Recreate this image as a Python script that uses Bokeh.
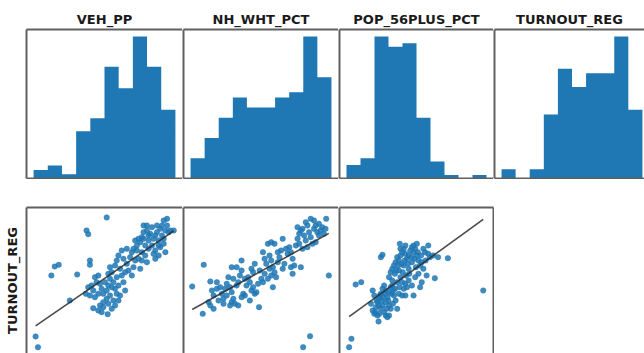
import numpy as np
from bokeh.plotting import figure
from bokeh.layouts import column, row
from bokeh.models import Range1d, LinearAxis, FixedTicker
from bokeh.embed import file_html
from bokeh.resources import INLINE

# ---------------- data ----------------
hist_names = ["VEH_PP", "NH_WHT_PCT", "POP_56PLUS_PCT", "TURNOUT_REG"]

# histogram counts (10 equal bins between the variable's min and max)
veh_pp_counts = [2, 3, 1, 11, 14, 26, 21, 33, 26, 16]
veh_pp_minmax = (0.322, 0.745)
nh_wht_counts = [4, 8, 12, 16, 14, 14, 16, 17, 28, 20]
nh_wht_minmax = (9.0, 94.6)
pop56_counts = [4, 6, 42, 39, 40, 18, 5, 1, 0, 1]
pop56_minmax = (12.0, 54.8)
turnout_counts = [2, 0, 2, 14, 24, 20, 23, 23, 31, 15]
turnout_minmax = (42.5, 81.4)

# scatter: VEH_PP vs TURNOUT_REG
veh_pp_x = [0.540, 0.480, 0.485, 0.328, 0.335, 0.375, 0.385, 0.397, 0.430, 0.452,
            0.490, 0.490, 0.543, 0.500,
            0.485, 0.478, 0.495, 0.505, 0.515, 0.510, 0.520, 0.525, 0.500, 0.490,
            0.505, 0.515, 0.530, 0.540, 0.545, 0.535, 0.550, 0.555, 0.560, 0.565,
            0.570, 0.575, 0.580, 0.590, 0.595, 0.585, 0.570, 0.550, 0.540, 0.530,
            0.520, 0.530, 0.545, 0.560, 0.575, 0.565, 0.555, 0.525, 0.515,
            0.550, 0.565, 0.575, 0.585, 0.590, 0.600, 0.600, 0.610, 0.605, 0.615,
            0.620, 0.625, 0.595, 0.580, 0.615, 0.570, 0.555, 0.545,
            0.630, 0.640, 0.650, 0.645, 0.655, 0.645, 0.660, 0.635, 0.665, 0.675,
            0.680, 0.670, 0.660, 0.675, 0.690, 0.700, 0.710, 0.720, 0.715, 0.725,
            0.705, 0.695, 0.685, 0.695, 0.685, 0.710, 0.715, 0.710, 0.730, 0.740,
            0.690, 0.650, 0.630, 0.640, 0.655, 0.665, 0.680, 0.695, 0.700, 0.720,
            0.705, 0.665, 0.645, 0.635, 0.620, 0.625, 0.650, 0.660, 0.685]
veh_pp_turnout = [81.4, 77.5, 76.4, 45.7, 42.5, 64.0, 66.7, 67.2, 56.5, 64.3,
                  68.5, 67.2, 52.4, 54.2,
                  60.5, 58.5, 61.0, 63.5, 64.0, 62.0, 61.5, 60.0, 59.5, 58.0,
                  57.5, 58.5, 58.5, 59.5, 61.0, 62.0, 63.0, 60.5, 62.0, 60.0,
                  58.5, 61.0, 58.0, 62.0, 59.5, 64.0, 63.5, 58.0, 57.0, 56.0,
                  55.0, 54.5, 55.5, 56.5, 56.5, 55.0, 54.0, 53.0, 53.5,
                  66.5, 67.0, 70.0, 71.5, 69.0, 72.0, 67.5, 69.5, 65.5, 64.0,
                  66.5, 68.5, 65.0, 66.0, 71.0, 68.5, 65.0, 64.5,
                  73.0, 74.0, 75.0, 71.0, 70.0, 68.5, 68.0, 69.0, 72.0, 73.0,
                  75.0, 76.5, 77.5, 78.5, 79.0, 78.0, 80.5, 81.0, 77.5, 77.0,
                  76.0, 74.5, 71.5, 70.0, 69.0, 73.5, 71.0, 75.0, 77.5, 77.5,
                  77.0, 77.0, 71.5, 66.0, 73.0, 74.5, 70.5, 73.0, 72.5, 79.0,
                  79.0, 76.0, 75.5, 75.0, 72.0, 74.5, 79.0, 79.0, 76.0]

# scatter: NH_WHT_PCT vs TURNOUT_REG
nh_wht_x = [10.0, 17.0, 16.4, 77.4, 81.6, 93.0, 91.4, 82.0,
            21.0, 22.0, 23.0, 20.0, 21.0, 23.0, 25.0, 27.0, 28.0, 29.0,
            26.0, 30.0, 31.0, 32.0, 33.0, 34.0, 35.0, 34.0, 36.0, 31.0,
            37.0, 38.0, 39.0, 40.0, 37.0, 40.0, 34.0, 35.0, 42.0, 43.0,
            41.0, 40.0, 45.0, 46.0, 47.0, 48.0, 45.0, 44.0, 47.0, 46.0,
            48.0, 51.0, 50.0, 52.0, 49.0, 42.0, 29.0, 25.0, 33.0, 50.6, 38.0,
            53.0, 56.0, 58.0, 60.0, 65.0, 54.0, 55.0, 57.0, 58.0, 59.0,
            60.0, 61.0, 59.0, 62.0, 63.0, 64.0, 65.0, 66.0, 67.0, 68.0,
            69.0, 70.0, 71.0, 70.0, 71.0, 72.0, 76.0, 62.0, 57.0, 54.0,
            53.0, 56.0, 58.0,
            73.0, 74.0, 75.0, 76.0, 77.0, 78.0, 79.0, 80.0, 81.0, 82.0,
            83.0, 84.0, 85.0, 86.0, 87.0, 88.0, 89.0, 90.0, 91.0, 77.0,
            80.0, 85.0, 74.0, 79.0, 84.0, 87.0, 75.0]
nh_wht_turnout = [60.7, 67.2, 52.5, 42.5, 45.8, 64.0, 81.0, 81.0,
                  62.2, 59.5, 58.0, 56.0, 55.0, 54.0, 60.0, 60.5, 58.5, 57.0,
                  56.5, 60.0, 61.5, 63.5, 60.5, 59.0, 57.0, 56.0, 55.5, 58.0,
                  61.0, 62.0, 64.0, 65.5, 66.5, 68.5, 66.5, 63.0, 63.0, 61.0,
                  58.5, 57.5, 56.5, 59.5, 60.5, 58.5, 62.0, 63.5, 65.0, 66.0,
                  67.5, 65.5, 61.5, 63.0, 59.0, 58.0, 55.5, 62.0, 55.0, 54.5, 55.0,
                  71.0, 73.5, 74.0, 73.5, 75.0, 69.0, 67.5, 70.0, 68.5, 66.5,
                  65.0, 63.5, 60.5, 68.0, 69.5, 71.5, 66.0, 67.5, 72.0, 70.5,
                  72.5, 71.0, 69.0, 66.5, 64.5, 67.0, 66.5, 71.0, 66.0, 64.5,
                  62.0, 63.0, 64.0,
                  73.0, 75.0, 76.5, 77.5, 78.0, 76.0, 74.5, 79.0, 77.0, 75.5,
                  73.5, 78.0, 79.0, 77.0, 76.0, 77.5, 78.5, 76.5, 78.0, 72.0,
                  72.5, 74.0, 78.5, 80.0, 80.5, 79.5, 73.5]

# scatter: POP_56PLUS_PCT vs TURNOUT_REG
pop56_x = [12.8, 13.5, 53.8, 14.8, 16.5, 28.3, 22.5, 23.0, 21.8, 39.0, 43.0,
           19.5, 20.0, 20.5, 20.0, 20.8, 21.0, 21.5, 22.0, 22.5, 23.0, 23.5,
           23.0, 22.5, 23.5, 24.0, 24.5, 25.0, 24.0, 24.5, 25.0, 24.0, 25.5,
           26.0, 26.5, 27.0, 25.0, 25.5, 21.5, 22.0, 20.5, 27.5, 28.0, 26.0,
           25.0, 25.5, 26.0, 26.5, 27.0, 27.5, 28.0, 28.5, 29.0, 29.5, 30.0,
           30.5, 31.0, 31.5, 32.0, 32.5, 33.0, 33.5, 34.0, 34.5, 35.0, 35.5,
           36.0, 37.0, 37.5, 38.5, 40.0, 28.0, 28.5, 29.0, 30.0, 31.0, 32.0,
           33.0, 34.0, 34.5, 30.0, 32.5, 35.0, 36.5, 28.5, 30.0, 32.5, 33.5,
           35.5, 37.0, 29.5, 31.0, 32.0, 27.5, 29.0,
           21.2, 21.8, 22.8, 23.3, 23.8, 24.3, 24.8, 25.8, 26.3, 26.8, 27.2,
           27.8, 28.8, 29.8, 30.8, 31.2, 31.8, 32.8, 33.2, 33.8, 34.8, 36.2,
           29.2, 30.2, 22.2, 26.2, 26.8, 28.2, 29.5, 30.5]
pop56_turnout = [42.5, 45.0, 59.5, 61.3, 62.0, 73.5, 69.5, 70.2, 50.2, 63.2, 69.2,
                 55.5, 59.5, 58.0, 53.5, 53.0, 54.5, 56.0, 57.0, 58.5, 60.0, 61.0,
                 55.0, 54.0, 53.0, 52.0, 51.5, 52.0, 56.0, 57.5, 59.0, 59.5, 60.5,
                 61.0, 58.0, 56.5, 55.0, 54.0, 52.0, 52.5, 52.5, 54.0, 58.5, 62.5,
                 63.5, 65.0, 66.0, 67.0, 68.0, 69.5, 68.5, 70.0, 71.0, 72.0, 70.5,
                 69.0, 70.0, 71.5, 72.5, 71.0, 72.0, 70.0, 68.5, 67.0, 68.0, 66.0,
                 71.0, 70.5, 69.5, 70.0, 69.5, 65.5, 63.5, 62.0, 61.5, 62.5, 61.0,
                 63.5, 64.5, 60.5, 58.0, 58.0, 62.0, 64.0, 72.0, 73.0, 73.0, 73.5,
                 72.0, 73.0, 67.0, 66.0, 68.0, 62.0, 58.0,
                 56.5, 55.0, 56.5, 57.5, 58.5, 54.0, 56.5, 58.5, 59.5, 64.5, 65.5,
                 67.0, 67.5, 68.5, 67.5, 64.5, 69.5, 69.0, 66.5, 71.0, 70.0, 68.5,
                 65.0, 64.0, 58.0, 55.5, 60.0, 60.5, 60.0, 60.5]

scatter_sets = [(veh_pp_x, veh_pp_turnout), (nh_wht_x, nh_wht_turnout),
                (pop56_x, pop56_turnout)]
hist_sets = [(veh_pp_counts, veh_pp_minmax), (nh_wht_counts, nh_wht_minmax),
             (pop56_counts, pop56_minmax), (turnout_counts, turnout_minmax)]
y_label = "TURNOUT_REG"

# ---------------- style ----------------
BLUE = "#1f77b4"
EDGE = "#606060"
FONT = "DejaVu Sans"
frame_w = [155, 155, 154, 150]   # plus 1px border space on the left
frame_h_top = 149
frame_h_bot = 146
turnout_view = (40.6, 84.4)


def border(p, side, label=None):
    ax = LinearAxis(ticker=FixedTicker(ticks=[]), major_tick_in=0, major_tick_out=0,
                    minor_tick_in=0, minor_tick_out=0, major_label_standoff=0,
                    major_label_text_font_size="0px", axis_line_color=EDGE,
                    axis_line_width=2)
    if label:
        ax.axis_label = label
        ax.axis_label_text_font = FONT
        ax.axis_label_text_font_style = "bold"
        ax.axis_label_text_font_size = "13px"
        ax.axis_label_text_color = "#1a1a1a"
        ax.axis_label_standoff = 7
    p.add_layout(ax, side)


def base_fig(fw, fh, xr, yr, left, top, bottom, right):
    p = figure(frame_width=fw, frame_height=fh, x_range=xr, y_range=yr,
               min_border_left=left, min_border_right=right, min_border_top=top,
               min_border_bottom=bottom, x_axis_location=None, y_axis_location=None,
               toolbar_location=None, output_backend="svg", outline_line_color=None,
               background_fill_color="white", border_fill_color="white")
    p.grid.visible = False
    return p


def padded(lo, hi):
    span = hi - lo
    return lo - 0.05 * span, hi + 0.05 * span


top_figs = []
x_ranges = []
for i, (name, (counts, (lo, hi))) in enumerate(zip(hist_names, hist_sets)):
    a, b = padded(lo, hi)
    if i == 3:
        b = a + (b - a) * 151.0 / 156.0   # panel is cut by the window edge
    xr = Range1d(a, b)
    x_ranges.append((a, b))
    yr = Range1d(0, 1.05 * max(counts))
    left = 26 if i == 0 else 1
    p = base_fig(frame_w[i] + (1 if i == 0 else 0), frame_h_top, xr, yr,
                 left, 29, 1, 0)
    edges = np.linspace(lo, hi, len(counts) + 1)
    # histogram drawn as one stepped area (no seams between the bars)
    px = [edges[0]]
    py = [0]
    for k, c in enumerate(counts):
        px += [edges[k], edges[k + 1]]
        py += [c, c]
    px.append(edges[-1])
    py.append(0)
    p.patch(px, py, fill_color=BLUE, line_color=None)
    p.title.text = name
    p.title.align = "center"
    p.title.text_font = FONT
    p.title.text_font_style = "bold"
    p.title.text_font_size = "13px"
    p.title.text_color = "#1a1a1a"
    p.title.standoff = 6
    border(p, "left")
    border(p, "above")
    border(p, "below")
    top_figs.append(p)

bot_figs = []
for i, (xs, ys) in enumerate(scatter_sets):
    a, b = x_ranges[i]
    left = 26 if i == 0 else 1
    right = 1 if i == 2 else 0
    p = base_fig(frame_w[i] + (1 if i == 0 else 0), frame_h_bot, Range1d(a, b),
                 Range1d(*turnout_view), left, 28, 0, right)
    p.scatter(xs, ys, size=5.5, fill_color=BLUE, line_color=BLUE, line_width=0.5,
              fill_alpha=0.85, line_alpha=0.85)
    xa = np.array(xs)
    slope, icpt = np.polyfit(xa, np.array(ys), 1)
    lx = [xa.min(), xa.max()]
    p.line(lx, [slope * v + icpt for v in lx], line_color="#2b2b2b",
           line_width=1.6, line_alpha=0.85)
    border(p, "left", y_label if i == 0 else None)
    border(p, "above")
    if i == 2:
        border(p, "right")
    bot_figs.append(p)

layout = column(row(*top_figs), row(*bot_figs))
open("out.html", "w").write(file_html(layout, INLINE))
